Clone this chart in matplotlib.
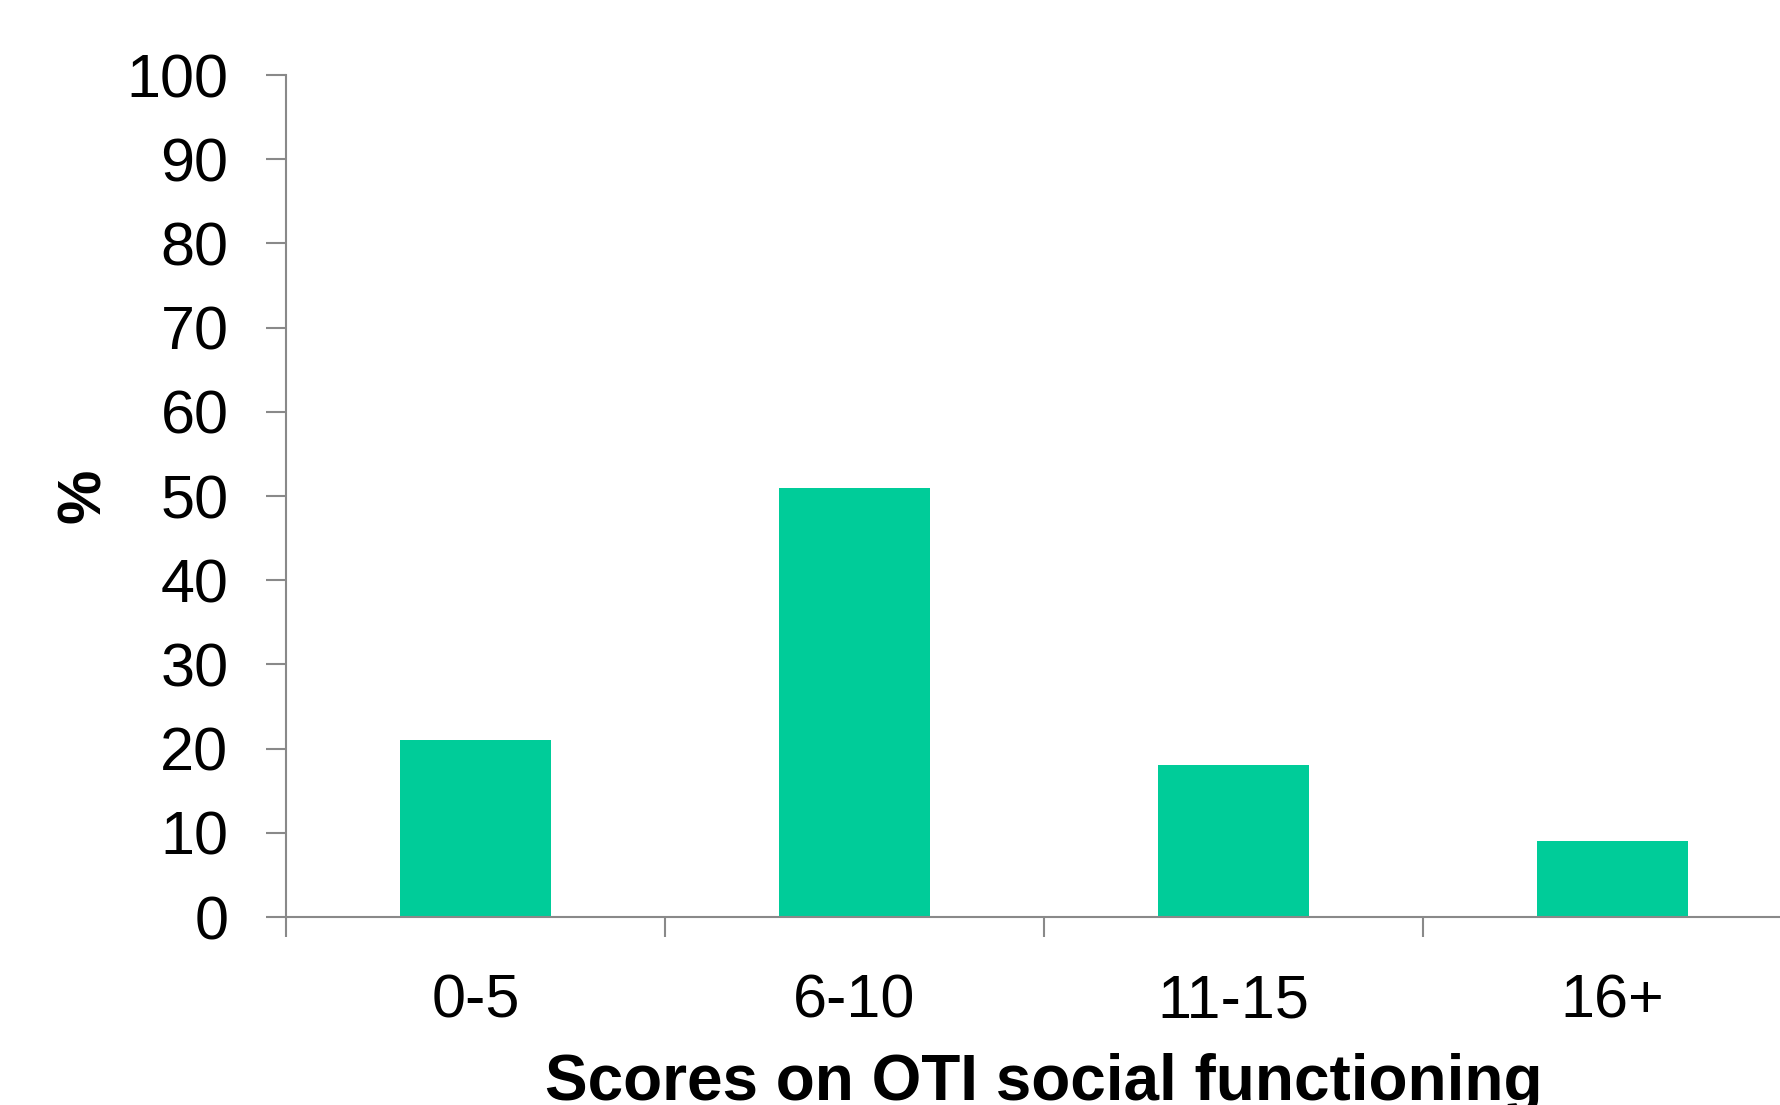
import matplotlib
matplotlib.use("Agg")
import matplotlib.pyplot as plt
import numpy as np

plt.rcParams['font.family'] = ['Liberation Sans', 'DejaVu Sans']

# data
categories = ["0-5", "6-10", "11-15", "16+"]
percent = [21, 51, 18, 9]
yticks = [0, 10, 20, 30, 40, 50, 60, 70, 80, 90, 100]

bar_color = "#00CC99"
axis_grey = "#898989"

fig = plt.figure(figsize=(17.8, 11.05), dpi=100)
ax = fig.add_axes([0.1607, 0.1701, 0.8517, 0.762])

x = np.arange(len(categories))
ax.bar(x, percent, width=0.40, color=bar_color, zorder=2)

ax.set_xlim(-0.5, len(categories) - 0.5)
ax.set_ylim(0, 100)

#spines
for s in ["top", "right"]:
    ax.spines[s].set_visible(False)
for s in ["left", "bottom"]:
    ax.spines[s].set_color(axis_grey)
    ax.spines[s].set_linewidth(1.5)

#y ticks
ax.set_yticks(yticks)
ax.set_yticklabels([str(v) for v in yticks])
ax.tick_params(axis="y", direction="out", length=14.5, width=1.5, color=axis_grey,
               labelsize=44, pad=27)

#x ticks: marks at boundaries, labels at centres
ax.set_xticks(np.arange(len(categories) + 1) - 0.5)
ax.set_xticklabels([])
ax.tick_params(axis="x", which="major", direction="out", length=14.5, width=1.5,
               color=axis_grey)
ax.set_xticks(x, minor=True)
ax.set_xticklabels(categories, minor=True)
ax.tick_params(axis="x", which="minor", length=0, labelsize=44, pad=41)

ax.set_ylabel("%", fontsize=44, fontweight="bold", labelpad=10)
ax.set_xlabel("Scores on OTI social functioning", fontsize=46, fontweight="bold",
              labelpad=16)

fig.savefig("out.png", dpi=100)
